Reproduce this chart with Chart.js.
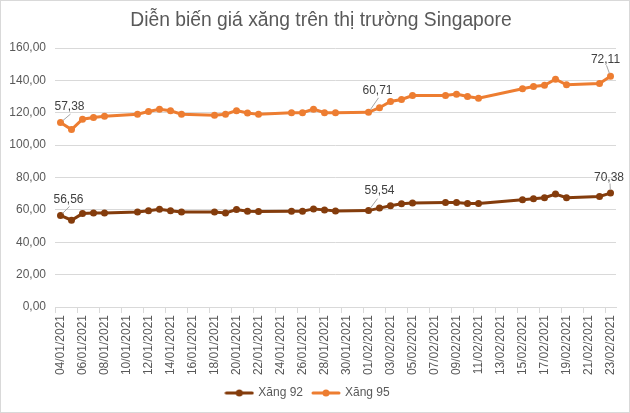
<!DOCTYPE html>
<html>
<head>
<meta charset="utf-8">
<script src="https://cdn.jsdelivr.net/npm/chart.js@4/dist/chart.umd.min.js"></script>
<style>
html,body{margin:0;padding:0;background:#fff;}
#wrap{width:630px;height:413px;position:relative;}
</style>
</head>
<body>
<div id="wrap"><canvas id="c" width="630" height="413"></canvas></div>
<script>
// ---- DATA ----
const chartTitle = 'Diễn biến giá xăng trên thị trường Singapore';
const dayLabels = [
  '04/01/2021','05/01/2021','06/01/2021','07/01/2021','08/01/2021','09/01/2021','10/01/2021',
  '11/01/2021','12/01/2021','13/01/2021','14/01/2021','15/01/2021','16/01/2021','17/01/2021',
  '18/01/2021','19/01/2021','20/01/2021','21/01/2021','22/01/2021','23/01/2021','24/01/2021',
  '25/01/2021','26/01/2021','27/01/2021','28/01/2021','29/01/2021','30/01/2021','31/01/2021',
  '01/02/2021','02/02/2021','03/02/2021','04/02/2021','05/02/2021','06/02/2021','07/02/2021',
  '08/02/2021','09/02/2021','10/02/2021','11/02/2021','12/02/2021','13/02/2021','14/02/2021',
  '15/02/2021','16/02/2021','17/02/2021','18/02/2021','19/02/2021','20/02/2021','21/02/2021',
  '22/02/2021','23/02/2021'
];
const tradingDays = [
  '04/01/2021','05/01/2021','06/01/2021','07/01/2021','08/01/2021',
  '11/01/2021','12/01/2021','13/01/2021','14/01/2021','15/01/2021',
  '18/01/2021','19/01/2021','20/01/2021','21/01/2021','22/01/2021',
  '25/01/2021','26/01/2021','27/01/2021','28/01/2021','29/01/2021',
  '01/02/2021','02/02/2021','03/02/2021','04/02/2021','05/02/2021',
  '08/02/2021','09/02/2021','10/02/2021','11/02/2021',
  '15/02/2021','16/02/2021','17/02/2021','18/02/2021','19/02/2021',
  '22/02/2021','23/02/2021'
];
const xang92 = [56.56,53.6,57.7,58.1,58.1, 58.7,59.5,60.4,59.5,58.7, 58.7,58.1,60.2,59.1,59.0,
  59.2,59.2,60.6,60.0,59.3, 59.54,61.1,62.6,63.8,64.3, 64.6,64.6,64.0,64.0,
  66.3,66.9,67.5,69.8,67.5, 68.3,70.38];
const xang95 = [57.38,56.0,58.3,58.9,59.7, 60.4,61.3,61.7,61.7,60.4, 59.7,61.0,61.1,60.7,60.0,
  60.8,60.8,61.6,60.0,60.7, 60.71,62.0,64.4,64.4,66.3, 66.1,66.9,66.1,65.0,
  68.5,69.3,69.5,70.9,69.8, 69.8,72.11];
const seriesNames = ['Xăng 92','Xăng 95'];
const yTicks = {min:0, max:160, step:20};

// ---- STYLE ----
const colors = ['#843C0C','#ED7D31'];
const FONT = "'Liberation Sans', Arial, sans-serif";
const fmt = v => v.toFixed(2).replace('.', ',');

function legendIcon(color){
  const c = document.createElement('canvas');
  c.width = 30; c.height = 10;
  const g = c.getContext('2d');
  g.strokeStyle = color; g.lineWidth = 3; g.lineCap = 'round';
  g.beginPath(); g.moveTo(2,5); g.lineTo(28,5); g.stroke();
  g.fillStyle = color; g.beginPath(); g.arc(15,5,3.5,0,Math.PI*2); g.fill();
  return c;
}

const bgPlugin = {
  id:'bg',
  beforeDraw(chart){
    const ctx = chart.ctx;
    ctx.save();
    ctx.fillStyle = '#fff';
    ctx.fillRect(0,0,chart.width,chart.height);
    ctx.strokeStyle = '#d9d9d9'; ctx.lineWidth = 1;
    ctx.strokeRect(0.5,0.5,chart.width-1,chart.height-1);
    ctx.restore();
  },
  afterDraw(chart){
    const ctx = chart.ctx;
    ctx.save();
    ctx.font = '19.3px ' + FONT;
    ctx.fillStyle = '#595959';
    ctx.textAlign = 'center';
    ctx.textBaseline = 'middle';
    ctx.fillText(chartTitle, 321, 21);
    ctx.restore();
  }
};

const labelPlugin = {
  id:'pointLabels',
  afterDatasetsDraw(chart, args, opts){
    const ctx = chart.ctx;
    ctx.save();
    ctx.font = '12px ' + FONT;
    ctx.textAlign = 'center';
    ctx.textBaseline = 'middle';
    opts.items.forEach(it => {
      const el = chart.getDatasetMeta(it.ds).data[it.idx];
      const raw = chart.data.datasets[it.ds].data[it.idx].y;
      const px = el.x, py = el.y;
      const cx = px + it.dx, cy = py + it.dy;
      const ex = cx + it.lx, ey = cy + it.ly;
      const d = Math.hypot(ex-px, ey-py);
      const sx = px + (ex-px)/d*3, sy = py + (ey-py)/d*3;
      ctx.strokeStyle = '#a6a6a6'; ctx.lineWidth = 1;
      ctx.beginPath(); ctx.moveTo(sx,sy); ctx.lineTo(ex,ey); ctx.stroke();
      ctx.fillStyle = '#404040';
      ctx.fillText(fmt(raw), cx, cy);
    });
    ctx.restore();
  }
};

const seriesValues = [xang92, xang95];
const datasets = seriesValues.map((vals, s) => ({
  label: seriesNames[s],
  data: tradingDays.map((d, i) => ({x: d, y: vals[i]})),
  borderColor: colors[s],
  backgroundColor: colors[s],
  borderWidth: 3,
  pointRadius: 3.5,
  pointBorderWidth: 0,
  pointBackgroundColor: colors[s],
  fill: false,
  tension: 0,
  spanGaps: true
}));

new Chart(document.getElementById('c'), {
  type: 'line',
  data: { labels: dayLabels, datasets },
  plugins: [bgPlugin, labelPlugin],
  options: {
    responsive: false,
    animation: false,
    devicePixelRatio: 1,
    layout: { padding: { left: 0, right: 14, top: 48, bottom: 4 } },
    plugins: {
      title: { display: false },
      legend: {
        position: 'bottom',
        labels: {
          usePointStyle: true, pointStyleWidth: 26, padding: 10,
          color: '#595959', font: { family: FONT, size: 12 },
          generateLabels(chart){
            return chart.data.datasets.map((ds, i) => ({
              text: ds.label, datasetIndex: i, fontColor: '#595959',
              pointStyle: legendIcon(colors[i]), hidden: false,
              fillStyle: colors[i], strokeStyle: colors[i], lineWidth: 0
            }));
          }
        }
      },
      tooltip: { enabled: false },
      pointLabels: {
        items: [
          {ds:1, idx:0,  dx:9,   dy:-15.5, lx:1, ly:7},
          {ds:0, idx:0,  dx:8,   dy:-16,   lx:1, ly:7},
          {ds:1, idx:20, dx:9,   dy:-21.5, lx:1, ly:7},
          {ds:0, idx:20, dx:11,  dy:-20,   lx:-2, ly:8},
          {ds:1, idx:35, dx:-5,  dy:-17,   lx:1, ly:6},
          {ds:0, idx:35, dx:-1.5,dy:-15.6, lx:1, ly:6}
        ]
      }
    },
    scales: {
      x: {
        type: 'category',
        offset: true,
        afterFit(s){ s.height = 70; },
        grid: {
          display: true, drawOnChartArea: false, drawTicks: true, tickLength: 6, offset: true,
          color: c => (c.index % 2 === 0 ? '#d9d9d9' : 'rgba(0,0,0,0)')
        },
        border: { display: true, color: '#d9d9d9', width: 1 },
        ticks: {
          autoSkip: false, minRotation: 90, maxRotation: 90, padding: 2,
          color: '#595959', font: { family: FONT, size: 12 },
          callback(v, i){ return i % 2 === 0 ? this.getLabelForValue(v) : ''; }
        }
      },
      y: {
        stacked: true,
        min: yTicks.min, max: yTicks.max,
        afterFit(s){ s.width = 55; },
        grid: { color: '#d9d9d9', drawTicks: false },
        border: { display: false },
        ticks: {
          stepSize: yTicks.step, padding: 9,
          color: '#595959', font: { family: FONT, size: 12 },
          callback: v => fmt(v)
        }
      }
    }
  }
});
</script>
</body>
</html>
